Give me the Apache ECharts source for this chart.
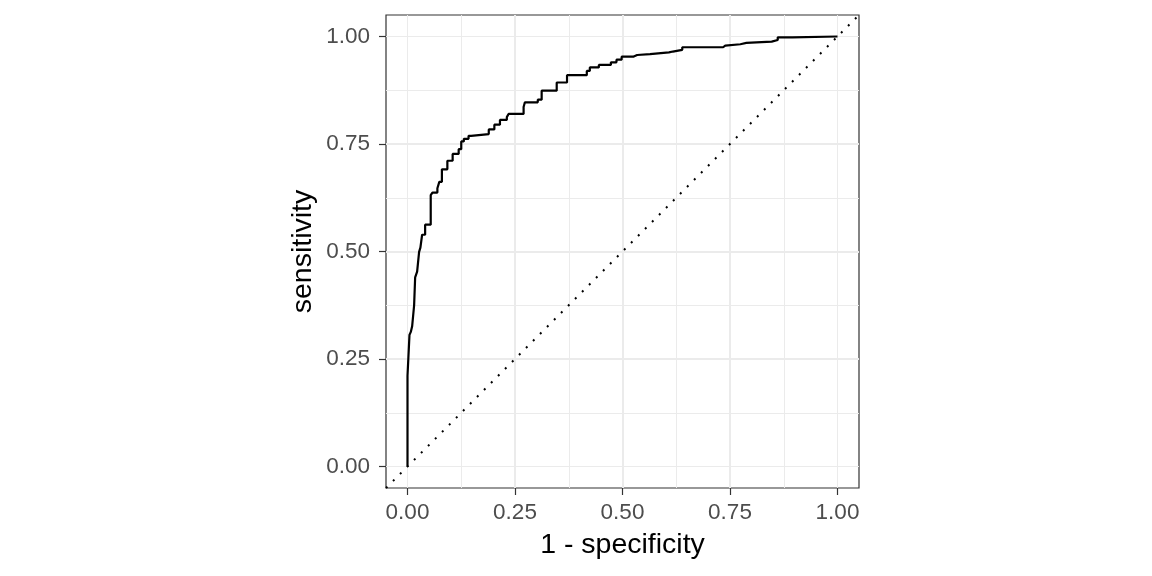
<!DOCTYPE html>
<html>
<head>
<meta charset="utf-8">
<script src="https://cdn.jsdelivr.net/npm/echarts@6/dist/echarts.min.js"></script>
<style>
  html, body { margin: 0; padding: 0; background: #fff; }
  #chart { width: 1152px; height: 576px; }
</style>
</head>
<body>
<div id="chart"></div>
<script>
'use strict';

// ── Data ──────────────────────────────────────────────────────────────────────
const fpr = [0, 0, 0.0046, 0.0077, 0.0108, 0.0154, 0.0178, 0.0224, 0.027, 0.030,
  0.034, 0.041, 0.054, 0.058, 0.0695, 0.074, 0.080, 0.0927, 0.105, 0.119,
  0.125, 0.131, 0.142, 0.148, 0.189, 0.202, 0.215, 0.231, 0.235, 0.270,
  0.273, 0.303, 0.312, 0.347, 0.371, 0.417, 0.424, 0.445, 0.473, 0.486,
  0.498, 0.525, 0.534, 0.564, 0.608, 0.617, 0.639, 0.734, 0.739, 0.774,
  0.788, 0.847, 0.861, 0.895, 1.0];
const tpr = [0, 0.211, 0.306, 0.313, 0.326, 0.375, 0.440, 0.453, 0.499, 0.509,
  0.539, 0.5625, 0.631, 0.637, 0.647, 0.662, 0.691, 0.711, 0.727, 0.738,
  0.756, 0.762, 0.769, 0.773, 0.784, 0.795, 0.806, 0.8125, 0.82, 0.836,
  0.847, 0.853, 0.874, 0.893, 0.910, 0.920, 0.928, 0.934, 0.940, 0.946,
  0.953, 0.957, 0.959, 0.963, 0.965, 0.969, 0.975, 0.979, 0.982, 0.985,
  0.988, 0.992, 0.998, 1.0, 1.0];

// reference diagonal (chance line), spans the expanded panel
const diagX = [-0.05, 1.05];
const diagY = [-0.05, 1.05];

const tickValues = [0, 0.25, 0.5, 0.75, 1];
const axisMin = -0.05, axisMax = 1.05;

// ── Helpers ───────────────────────────────────────────────────────────────────
const FONT = 'Liberation Sans, Arial, sans-serif';

function majorAxis(name, isY) {
  return {
    type: 'value',
    min: axisMin, max: axisMax,
    minInterval: 0.25, maxInterval: 0.25,
    splitNumber: 4,
    name,
    nameLocation: 'middle',
    nameGap: isY ? 68 : 43,
    nameRotate: isY ? 90 : 0,
    nameTextStyle: { fontSize: 28.5, color: '#000', fontFamily: FONT },
    axisLine: { show: false, onZero: false },
    axisTick: {
      show: true, length: 7, customValues: tickValues,
      lineStyle: { color: '#333333', width: 1.2 }
    },
    axisLabel: {
      customValues: tickValues,
      formatter: v => v.toFixed(2),
      color: '#4D4D4D', fontSize: 22.5, fontFamily: FONT,
      margin: isY ? 16 : 13
    },
    splitLine: {
      show: true, showMinLine: false, showMaxLine: false,
      lineStyle: { color: '#EBEBEB', width: 2 }
    }
  };
}

function minorAxis() {
  return {
    type: 'value',
    min: axisMin, max: axisMax,
    minInterval: 0.125, maxInterval: 0.125,
    splitNumber: 8,
    axisLine: { show: false, onZero: false },
    axisTick: { show: false },
    axisLabel: { show: false },
    splitLine: {
      show: true, showMinLine: false, showMaxLine: false,
      lineStyle: { color: '#EBEBEB', width: 1 }
    }
  };
}

// ── Chart ─────────────────────────────────────────────────────────────────────
const chart = echarts.init(document.getElementById('chart'), null, { renderer: 'canvas' });

chart.setOption({
  animation: false,
  backgroundColor: '#ffffff',
  grid: {
    left: 386, top: 15, width: 473, height: 473,
    show: true, borderColor: '#333333', borderWidth: 1.2,
    backgroundColor: 'transparent'
  },
  xAxis: [majorAxis('1 - specificity', false), minorAxis()],
  yAxis: [majorAxis('sensitivity', true), minorAxis()],
  series: [
    {
      type: 'line',
      xAxisIndex: 0, yAxisIndex: 0,
      data: diagX.map((x, i) => [x, diagY[i]]),
      symbol: 'none',
      silent: true,
      lineStyle: { color: '#000', width: 2, type: [2, 7.9], cap: 'butt' }
    },
    {
      type: 'line',
      xAxisIndex: 0, yAxisIndex: 0,
      step: 'end',
      data: fpr.map((x, i) => [x, tpr[i]]),
      symbol: 'none',
      silent: true,
      lineStyle: { color: '#000', width: 2.2 }
    }
  ]
});
</script>
</body>
</html>
